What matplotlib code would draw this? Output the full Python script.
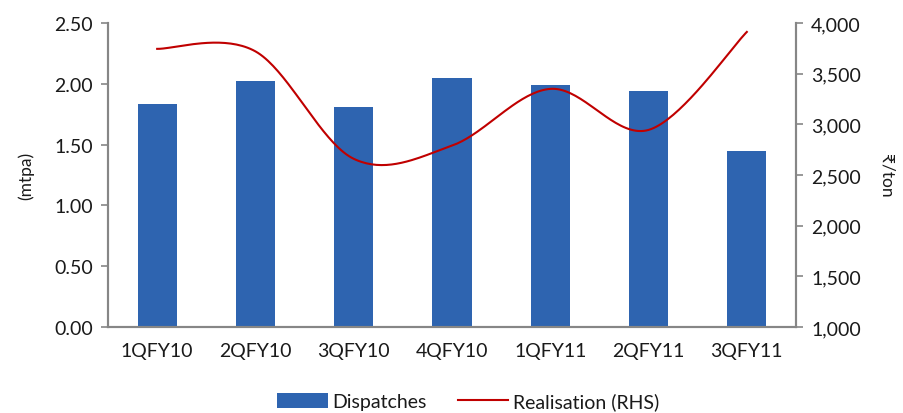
import matplotlib

matplotlib.use("Agg")
import matplotlib.pyplot as plt
import numpy as np
from matplotlib.ticker import FuncFormatter

plt.rcParams["font.family"] = ["Lato", "DejaVu Sans"]

quarters = ["1QFY10", "2QFY10", "3QFY10", "4QFY10", "1QFY11", "2QFY11", "3QFY11"]
dispatches = [1.83, 2.02, 1.81, 2.05, 1.99, 1.94, 1.45]  # mtpa
realisation = [3745, 3720, 2660, 2790, 3350, 2945, 3912]  # Rs/ton

BAR_COLOR = "#2E64B0"
LINE_COLOR = "#C00000"
AXIS_COLOR = "#868686"
TEXT_COLOR = "#1a1a1a"


def smooth_curve(x, y, n=40):
    """Spline a la Excel: Bezier cubicos con tangentes tipo Catmull-Rom."""
    x = np.asarray(x, float)
    y = np.asarray(y, float)
    pts = np.column_stack([x, y])
    out = []
    m = len(pts)
    for i in range(m - 1):
        p0 = pts[max(i - 1, 0)]
        p1 = pts[i]
        p2 = pts[i + 1]
        p3 = pts[min(i + 2, m - 1)]
        c1 = p1 + (p2 - p0) / 6.0
        c2 = p2 - (p3 - p1) / 6.0
        t = np.linspace(0, 1, n)[:, None]
        seg = ((1 - t) ** 3) * p1 + 3 * ((1 - t) ** 2) * t * c1 + 3 * (1 - t) * t ** 2 * c2 + t ** 3 * p2
        out.append(seg if i == 0 else seg[1:])
    seg = np.vstack(out)
    return seg[:, 0], seg[:, 1]


fig = plt.figure(figsize=(9.04, 4.14), dpi=100)
ax = fig.add_axes([0.1195, 0.2077, 0.761, 0.7343])
ax2 = ax.twinx()

xpos = np.arange(len(quarters))
bars = ax.bar(xpos, dispatches, width=0.4, color=BAR_COLOR, label="Dispatches", zorder=2)

xs, ys = smooth_curve(xpos, realisation)
line, = ax2.plot(xs, ys, color=LINE_COLOR, lw=1.5, label="Realisation (RHS)")

ax.set_xlim(-0.5, len(quarters) - 0.5)
ax.set_ylim(0, 2.5)
ax.set_yticks(np.arange(0, 2.51, 0.5))
ax.yaxis.set_major_formatter(FuncFormatter(lambda v, _: f"{v:.2f}"))
ax2.set_ylim(1000, 4000)
ax2.set_yticks(np.arange(1000, 4001, 500))
ax2.yaxis.set_major_formatter(FuncFormatter(lambda v, _: f"{v:,.0f}"))

ax.set_xticks(xpos)
ax.set_xticklabels(quarters)

for a in (ax, ax2):
    a.spines["top"].set_visible(False)
    for s in ("left", "right", "bottom"):
        a.spines[s].set_color(AXIS_COLOR)
        a.spines[s].set_linewidth(1.5)
    a.tick_params(colors=AXIS_COLOR, labelcolor=TEXT_COLOR, labelsize=14, width=1.2, length=5)
ax.tick_params(axis="x", length=0, pad=11)
ax.tick_params(axis="y", pad=6)
ax2.tick_params(axis="y", pad=6)

ax.set_ylabel("(mtpa)", fontsize=12.5, color=TEXT_COLOR, labelpad=14)
ax2.set_ylabel("₹/ton", fontsize=12.5, color=TEXT_COLOR, rotation=270, labelpad=24)

fig.legend(
    [bars, line], ["Dispatches", "Realisation (RHS)"],
    loc="lower center", bbox_to_anchor=(0.518, -0.035), ncol=2, frameon=False,
    fontsize=14, handlelength=2.6, handleheight=0.8, handletextpad=0.25,
    columnspacing=1.6, labelcolor=TEXT_COLOR,
)

fig.savefig("out.png", dpi=100)
plt.close(fig)
